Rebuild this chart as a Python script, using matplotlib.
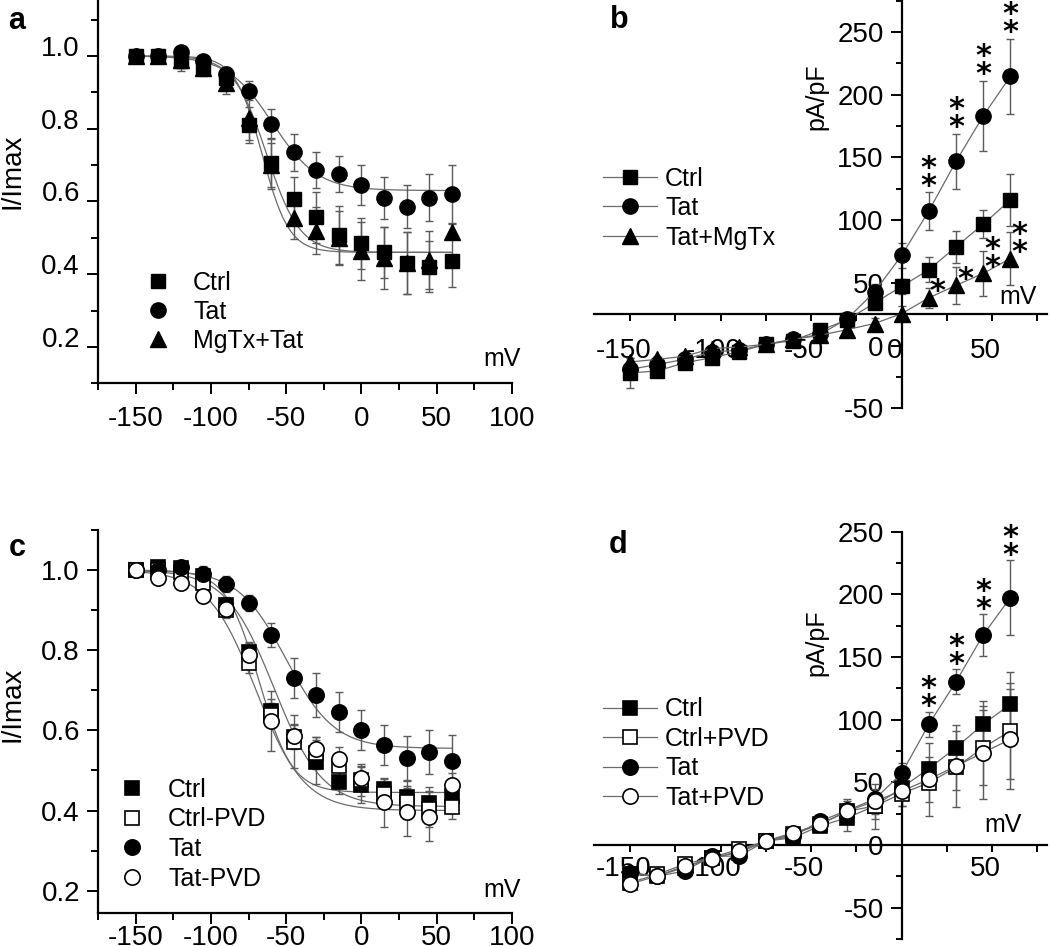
import numpy as np
import matplotlib
matplotlib.use("Agg")
import matplotlib.pyplot as plt
from matplotlib.ticker import MultipleLocator, FixedLocator, FormatStrFormatter, FuncFormatter
from matplotlib.font_manager import FontProperties
from matplotlib.textpath import TextPath
from matplotlib.transforms import ScaledTranslation

plt.rcParams['font.family'] = ['Liberation Sans', 'DejaVu Sans']
plt.rcParams['axes.unicode_minus'] = False

# test potentials (mV)
volts = [-150, -135, -120, -105, -90, -75, -60, -45, -30, -15, 0, 15, 30, 45, 60]

# panel a: I/Imax
ctrl_a = [1.00, 1.00, 0.986, 0.97, 0.94, 0.81, 0.705, 0.607, 0.556, 0.507, 0.485, 0.46, 0.43, 0.42, 0.435]
ctrl_a_err = [0.01, 0.015, 0.02, 0.02, 0.03, 0.05, 0.07, 0.06, 0.07, 0.08, 0.07, 0.07, 0.085, 0.07, 0.07]
tat_a = [1.00, 1.00, 1.01, 0.986, 0.95, 0.905, 0.813, 0.735, 0.687, 0.675, 0.644, 0.61, 0.586, 0.61, 0.62]
tat_a_err = [0.01, 0.01, 0.01, 0.01, 0.02, 0.025, 0.04, 0.05, 0.05, 0.05, 0.055, 0.058, 0.06, 0.065, 0.08]
mgtx_a = [1.00, 1.00, 0.99, 0.966, 0.925, 0.83, 0.70, 0.554, 0.52, 0.50, 0.463, 0.444, 0.43, 0.44, 0.517]
mgtx_a_err = [0.01, 0.02, 0.03, 0.02, 0.03, 0.06, 0.06, 0.058, 0.065, 0.075, 0.08, 0.085, 0.085, 0.08, 0.02]
# Boltzmann fit parameters (bottom, V1/2, slope)
fit_a = {'Ctrl': (0.46, -63, 11), 'Tat': (0.63, -59, 15), 'MgTx+Tat': (0.46, -66, 9)}

# panel b: pA/pF
ctrl_b = [-21.8, -20.2, -13.8, -9.6, -5, 1, 4, 12.2, 20.5, 34, 47.2, 60.5, 78.7, 96.8, 116]
ctrl_b_err = [12, 4, 3, 3, 3, 3, 3, 4, 4, 5, 6, 10, 13, 11, 21]
tat_b = [-19, -15, -11, -5, -3.7, 1, 5, 9, 21.5, 42.8, 72, 107.4, 146.8, 183, 214.6]
tat_b_err = [5, 4, 3, 3, 3, 3, 3, 4, 5, 6, 10, 15, 22, 28, 30]
mgtx_b = [-13, -11, -8.5, -2.4, -1.1, 1, 5, 8.2, 12.8, 17.6, 25.5, 38, 48, 57.5, 69.4]
mgtx_b_err = [3, 3, 3, 3, 3, 3, 3, 4, 6, 4, 6, 8, 14.5, 18, 21]
sig_volts = [15, 30, 45, 60]
tat_b_sig = [2, 2, 2, 2]
mgtx_b_sig = [1, 1, 2, 2]

# panel c: I/Imax
ctrl_c = [1.0, 1.008, 1.006, 0.985, 0.913, 0.796, 0.649, 0.584, 0.521, 0.472, 0.464, 0.453, 0.433, 0.418, 0.435]
ctrl_c_err = [0.01, 0.01, 0.01, 0.015, 0.02, 0.025, 0.03, 0.03, 0.055, 0.03, 0.045, 0.025, 0.04, 0.04, 0.03]
ctrlpvd_c = [1.0, 1.0, 0.996, 0.967, 0.90, 0.767, 0.638, 0.572, 0.543, 0.51, 0.476, 0.44, 0.42, 0.403, 0.408]
ctrlpvd_c_err = [0.01, 0.01, 0.01, 0.015, 0.02, 0.025, 0.03, 0.067, 0.04, 0.03, 0.04, 0.03, 0.04, 0.045, 0.03]
tat_c = [1.0, 1.0, 1.008, 0.99, 0.965, 0.919, 0.838, 0.73, 0.688, 0.645, 0.602, 0.563, 0.53, 0.547, 0.524]
tat_c_err = [0.01, 0.01, 0.01, 0.02, 0.02, 0.02, 0.03, 0.05, 0.055, 0.05, 0.05, 0.05, 0.055, 0.055, 0.065]
tatpvd_c = [1.0, 0.98, 0.967, 0.936, 0.904, 0.788, 0.624, 0.587, 0.553, 0.529, 0.48, 0.42, 0.397, 0.385, 0.464]
tatpvd_c_err = [0.01, 0.01, 0.01, 0.015, 0.02, 0.03, 0.075, 0.03, 0.03, 0.03, 0.03, 0.06, 0.06, 0.06, 0.03]
fit_c = {'Ctrl': (0.445, -68, 11), 'Ctrl-PVD': (0.41, -58, 16),
         'Tat': (0.555, -50, 16), 'Tat-PVD': (0.40, -70, 16)}

# panel d: pA/pF
ctrl_d = [-23.4, -24.7, -18, -10, -6, 3, 5.9, 15.2, 21.8, 31, 45.7, 61, 77.7, 96.3, 112.3]
ctrl_d_err = [4, 3, 3, 3, 3, 3, 3, 4, 11, 18, 8, 9, 13, 18.5, 26]
ctrlpvd_d = [-30, -23.4, -15.4, -10, -3.5, 3, 8.5, 16.5, 27, 31, 41, 49.7, 62, 77.7, 91]
ctrlpvd_d_err = [4, 3, 3, 3, 3, 3, 4, 5, 8, 10, 10, 15, 18, 30, 38]
tat_d = [-22, -25, -20.7, -9, -8.8, 3, 7.2, 19, 27.7, 36.5, 57.2, 96.3, 130.3, 167.6, 197.3]
tat_d_err = [4, 3, 3, 3, 3, 3, 3, 4, 5, 6, 8, 10, 10, 16.5, 30]
tatpvd_d = [-31, -24.7, -16.8, -11.4, -4.8, 3.2, 9.8, 16.5, 27, 35, 43, 52.4, 63, 73.7, 84.3]
tatpvd_d_err = [4, 3, 3, 3, 3, 5, 4, 6, 10, 10, 12, 29, 33, 37, 40]
tat_d_sig = [2, 2, 2, 2]

W, H = 1050, 946
fig = plt.figure(figsize=(W / 100, H / 100), dpi=100)

GRAY = '#6a6a6a'
ECOL = '#5a5a5a'
MS = {'s': 10, 'o': 11, '^': 11.5}
STAR_FS = 22
STAR_STEP = 18.0  # px between stacked asterisks
star_fp = FontProperties(family='DejaVu Sans', weight='bold', size=STAR_FS)
_ext = TextPath((0, 0), '*', size=1, prop=star_fp).get_extents()
STAR_MID = (_ext.y0 + _ext.y1) / 2  # glyph centre above baseline, in em
_renderer = fig.canvas.get_renderer()
_w, _h, _d = _renderer.get_text_width_height_descent('lp', star_fp, ismath=False)
# matplotlib line step = descent + linespacing * ascent
STAR_LS = (STAR_STEP - _d) / (_h - _d)


def px_axes(left, top, right, bottom):
    return fig.add_axes([left / W, 1 - bottom / H, (right - left) / W, (bottom - top) / H])


def ftext(x, y, s, **kw):
    fig.text(x / W, 1 - y / H, s, ha='center', va='center', **kw)


def boltz(v, bottom, vhalf, slope):
    return bottom + (1 - bottom) / (1 + np.exp((v - vhalf) / slope))


def stars(ax, x, y, n, dx_px=0.0, first_px=13.0):
    # stacked asterisks as one text; 'baseline' anchors the lowest line
    off = first_px * 0.72 - STAR_MID * STAR_FS
    ax.annotate('\n'.join(['*'] * n), xy=(x, y), xytext=(dx_px * 0.72, off), textcoords='offset points',
                ha='center', va='baseline', fontproperties=star_fp, linespacing=STAR_LS, zorder=4)


def shift_xlabels(ax, dx_px):
    off = ScaledTranslation(dx_px / 100, 0, fig.dpi_scale_trans)
    for lab in ax.get_xticklabels():
        lab.set_transform(lab.get_transform() + off)


def style_inact(ax, ylim, pad_x):
    for s in ['top', 'right']:
        ax.spines[s].set_visible(False)
    for s in ['left', 'bottom']:
        ax.spines[s].set_linewidth(1.6)
    ax.set_xlim(-175, 100)
    ax.set_ylim(*ylim)
    ax.xaxis.set_major_locator(MultipleLocator(50))
    ax.xaxis.set_minor_locator(MultipleLocator(25))
    ax.yaxis.set_major_locator(FixedLocator([0.2, 0.4, 0.6, 0.8, 1.0]))
    ax.yaxis.set_minor_locator(FixedLocator([0.1, 0.3, 0.5, 0.7, 0.9, 1.1]))
    ax.yaxis.set_major_formatter(FormatStrFormatter('%.1f'))
    ax.tick_params(which='major', direction='out', length=8, width=1.4, labelsize=20)
    ax.tick_params(which='minor', direction='out', length=5, width=1.4)
    ax.tick_params(axis='x', which='major', pad=pad_x)
    ax.tick_params(axis='y', which='major', pad=5)


def style_iv(ax, ylim, xcross, pad_x):
    for s in ['top', 'right']:
        ax.spines[s].set_visible(False)
    ax.spines['left'].set_position(('data', 0))
    ax.spines['bottom'].set_position(('data', xcross))
    for s in ['left', 'bottom']:
        ax.spines[s].set_linewidth(1.6)
    ax.set_xlim(-170, 80)
    ax.set_ylim(*ylim)
    ax.xaxis.set_major_locator(FixedLocator([-150, -100, -50, 0, 50]))
    ax.xaxis.set_minor_locator(FixedLocator([-125, -75, -25, 25, 75]))
    ax.yaxis.set_major_locator(MultipleLocator(50))
    ax.yaxis.set_minor_locator(MultipleLocator(25))
    ax.tick_params(which='both', direction='out', width=1.4, labelsize=20)
    ax.tick_params(axis='x', which='both', length=5, pad=pad_x)
    ax.tick_params(axis='y', which='major', length=8, pad=5)
    ax.tick_params(axis='y', which='minor', length=4)


v = np.array(volts)
v_fit = np.linspace(-150, 60, 300)

# ---------------- panel a ----------------
ax_a = px_axes(98, 1.4, 512, 383.3)
style_inact(ax_a, (0.1, 1.15), 8)
for name, (bot, vh, k) in fit_a.items():
    ax_a.plot(v_fit, boltz(v_fit, bot, vh, k), color=GRAY, lw=0.9, zorder=1)
hs = []
for y, e, m, lab in [(ctrl_a, ctrl_a_err, 's', 'Ctrl'), (tat_a, tat_a_err, 'o', 'Tat'),
                     (mgtx_a, mgtx_a_err, '^', 'MgTx+Tat')]:
    ax_a.errorbar(v, y, yerr=e, fmt='none', ecolor=ECOL, elinewidth=1, capsize=3, capthick=1, zorder=2)
    h, = ax_a.plot(v, y, m, ls='none', color='black', ms=MS[m], zorder=3, label=lab)
    hs.append(h)
ax_a.legend(handles=hs, loc='center left', bbox_to_anchor=(0.115, 0.1867), frameon=False, fontsize=18,
            handlelength=1.0, handletextpad=0.9, labelspacing=0.2, borderpad=0, borderaxespad=0, numpoints=1)
for lab in ax_a.get_yticklabels():
    lab.set_verticalalignment('baseline')

# ---------------- panel c ----------------
ax_c = px_axes(98, 530, 512, 912.7)
style_inact(ax_c, (0.145, 1.1), 1)
for name, (bot, vh, k) in fit_c.items():
    ax_c.plot(v_fit, boltz(v_fit, bot, vh, k), color=GRAY, lw=0.9, zorder=1)
hs = []
for y, e, m, fc, lab in [(ctrl_c, ctrl_c_err, 's', 'black', 'Ctrl'),
                         (ctrlpvd_c, ctrlpvd_c_err, 's', 'white', 'Ctrl-PVD'),
                         (tat_c, tat_c_err, 'o', 'black', 'Tat'),
                         (tatpvd_c, tatpvd_c_err, 'o', 'white', 'Tat-PVD')]:
    ax_c.errorbar(v, y, yerr=e, fmt='none', ecolor=ECOL, elinewidth=1, capsize=3, capthick=1, zorder=2)
    h, = ax_c.plot(v, y, m, ls='none', mfc=fc, mec='black', mew=1.2, ms=MS[m], zorder=3, label=lab)
    hs.append(h)
ax_c.legend(handles=hs, loc='center left', bbox_to_anchor=(0.052, 0.205), frameon=False, fontsize=18,
            handlelength=1.0, handletextpad=0.94, labelspacing=0.23, borderpad=0, borderaxespad=0, numpoints=1)

# ---------------- panel b ----------------
ax_b = px_axes(594, 0, 1046.5, 408.3)
style_iv(ax_b, (-50, 275.5), 25, 12)
shift_xlabels(ax_b, -7)
hs = []
for y, e, m, lab in [(ctrl_b, ctrl_b_err, 's', 'Ctrl'), (tat_b, tat_b_err, 'o', 'Tat'),
                     (mgtx_b, mgtx_b_err, '^', 'Tat+MgTx')]:
    ax_b.errorbar(v, y, yerr=e, fmt='none', ecolor=ECOL, elinewidth=1, capsize=3, capthick=1, zorder=2)
    h, = ax_b.plot(v, y, '-', marker=m, color=GRAY, lw=0.9, mfc='black', mec='black', ms=MS[m],
                   zorder=3, label=lab)
    hs.append(h)
ax_b.legend(handles=hs, loc='center left', bbox_to_anchor=(0.02, 0.49), frameon=False, fontsize=18,
            handlelength=2.16, handletextpad=0.32, labelspacing=0.22, borderpad=0, borderaxespad=0,
            numpoints=1)

tat_map = dict(zip(volts, zip(tat_b, tat_b_err)))
for sv, n in zip(sig_volts, tat_b_sig):
    y, e = tat_map[sv]
    stars(ax_b, sv, y + e, n)
mg_map = dict(zip(volts, mgtx_b))
for sv, n in zip(sig_volts, mgtx_b_sig):
    stars(ax_b, sv, mg_map[sv], n, dx_px=9, first_px=13)

# ---------------- panel d ----------------
ax_d = px_axes(594, 531.7, 1046.5, 939)
style_iv(ax_d, (-75, 250), 0, 3)
ax_d.xaxis.set_major_formatter(FuncFormatter(lambda x, p: '' if x == 0 else '%d' % x))
shift_xlabels(ax_d, -7)
hs = []
for y, e, m, fc, lab in [(ctrl_d, ctrl_d_err, 's', 'black', 'Ctrl'),
                         (ctrlpvd_d, ctrlpvd_d_err, 's', 'white', 'Ctrl+PVD'),
                         (tat_d, tat_d_err, 'o', 'black', 'Tat'),
                         (tatpvd_d, tatpvd_d_err, 'o', 'white', 'Tat+PVD')]:
    ax_d.errorbar(v, y, yerr=e, fmt='none', ecolor=ECOL, elinewidth=1, capsize=3, capthick=1, zorder=2)
    h, = ax_d.plot(v, y, '-', marker=m, color=GRAY, lw=0.9, mfc=fc, mec='black', mew=1.2, ms=MS[m],
                   zorder=3, label=lab)
    hs.append(h)
ax_d.legend(handles=hs, loc='center left', bbox_to_anchor=(0.02, 0.455), frameon=False, fontsize=18,
            handlelength=2.16, handletextpad=0.32, labelspacing=0.22, borderpad=0, borderaxespad=0,
            numpoints=1)
tat_map = dict(zip(volts, zip(tat_d, tat_d_err)))
for sv, n in zip(sig_volts, tat_d_sig):
    y, e = tat_map[sv]
    stars(ax_d, sv, y + e, n, first_px=12)

# labels
ftext(17, 21, 'a', fontsize=22, fontweight='bold')
ftext(619, 20, 'b', fontsize=22, fontweight='bold')
ftext(17, 548, 'c', fontsize=22, fontweight='bold')
ftext(618, 545, 'd', fontsize=22, fontweight='bold')
ftext(13, 171, 'I/Imax', fontsize=20, rotation=90)
ftext(13, 704, 'I/Imax', fontsize=20, rotation=90)
ftext(816, 97, 'pA/pF', fontsize=18, rotation=90)
ftext(816, 643, 'pA/pF', fontsize=18, rotation=90)
ftext(502, 359, 'mV', fontsize=18)
ftext(502, 890, 'mV', fontsize=18)
ftext(1018, 297, 'mV', fontsize=18)
ftext(1003, 825, 'mV', fontsize=18)

fig.savefig('out.png', dpi=100)
